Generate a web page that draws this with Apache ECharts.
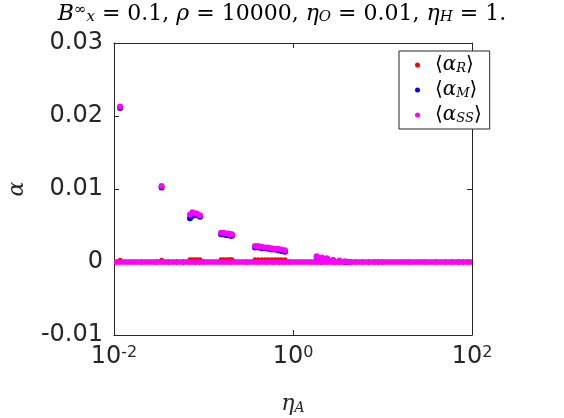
<!DOCTYPE html>
<html>
<head>
<meta charset="utf-8">
<script src="https://cdn.jsdelivr.net/npm/echarts@6/dist/echarts.min.js"></script>
<style>
  html, body { margin: 0; padding: 0; background: #fff; }
  #chart { width: 564px; height: 418px; }
</style>
</head>
<body>
<div id="chart"></div>
<script>
// eta_A values of the points
const etaA = [0.0117, 0.034, 0.0706, 0.075, 0.08, 0.085, 0.0914,
  0.157, 0.167, 0.178, 0.19, 0.2, 0.208,
  0.376, 0.41, 0.45, 0.49, 0.53, 0.58, 0.63, 0.68, 0.74, 0.815,
  1.84, 2.1, 2.4, 2.8, 3.3, 3.8, 4.3]
const alphaR = [0.00025, 0.00025, 0.0003, 0.0003, 0.0003, 0.0003, 0.0003,
  0.0003, 0.0003, 0.0003, 0.0003, 0.0003, 0.0003,
  0.0003, 0.0003, 0.0003, 0.0003, 0.0003, 0.0003, 0.0003, 0.0003, 0.0003, 0.0003,
  0, 0, 0, 0, 0, 0, 0]
const alphaM = [0.0211, 0.0102, 0.0060, 0.0063, 0.0065, 0.0064, 0.0062,
  0.0038, 0.0038, 0.0037, 0.0037, 0.0036, 0.0036,
  0.0020, 0.0020, 0.0019, 0.0019, 0.0018, 0.0017, 0.0017, 0.0016, 0.0015, 0.0014,
  0.0007, 0.0005, 0.0004, 0.0002, 0.0001, 0, 0]
const alphaSS = [0.0213, 0.0104, 0.0065, 0.0068, 0.0067, 0.0066, 0.0064,
  0.0040, 0.0040, 0.0039, 0.0039, 0.0038, 0.0038,
  0.0022, 0.0022, 0.0021, 0.0020, 0.0020, 0.0019, 0.0018, 0.0018, 0.0017, 0.0016,
  0.0008, 0.0006, 0.0005, 0.0003, 0.0002, 0.0001, 0]
// the dense run of points sitting on alpha = 0 over the whole range
const zeroEta = [0.01, 100]
const zeroAlpha = [0, 0]

const xTickLabels = [0.01, 1, 100]
const yTicks = [-0.01, 0, 0.01, 0.02, 0.03]

var minorTicks = []
for (var k = -2; k < 2; k++) {
  for (var m = 2; m <= 9; m++) minorTicks.push(m * Math.pow(10, k))
  if (k === -1 || k === 1) minorTicks.push(Math.pow(10, k))
}

const axisColor = '#262626'
const serif = 'DejaVu Serif'
const sans = 'DejaVu Sans'

function pairs(xs, ys) {
  return xs.map((x, i) => [x, ys[i]])
}

const seriesNames = { aR: 'R', aM: 'M', aSS: 'SS' }

const chart = echarts.init(document.getElementById('chart'), null, { renderer: 'canvas' })

const baseX = {
  type: 'log',
  logBase: 10,
  min: 0.01,
  max: 100,
  gridIndex: 0,
  splitLine: { show: false },
  axisLine: { show: true, onZero: false, lineStyle: { color: axisColor, width: 1 } }
}

chart.setOption({
  animation: false,
  backgroundColor: '#fff',
  title: {
    left: 'center',
    top: -2,
    text: '{i|B}{sup|∞}{sub|x}{n| = 0.1, }{i|ρ}{n| = 10000, }{i|η}{sub|O}{n| = 0.01, }{i|η}{sub|H}{n| = 1.}',
    textStyle: {
      fontWeight: 'normal',
      rich: {
        n: { fontFamily: serif, fontWeight: 'normal', fontSize: 22, color: '#000' },
        i: { fontFamily: serif, fontWeight: 'normal', fontStyle: 'italic', fontSize: 22, color: '#000' },
        sup: { fontFamily: serif, fontWeight: 'normal', fontSize: 15, verticalAlign: 'top', color: '#000' },
        sub: { fontFamily: serif, fontWeight: 'normal', fontStyle: 'italic', fontSize: 15, verticalAlign: 'bottom', color: '#000' }
      }
    }
  },
  grid: { left: 114, right: 92, top: 43, bottom: 83, outerBoundsMode: 'none' },
  legend: {
    orient: 'vertical',
    left: 399,
    top: 51,
    padding: [4, 8, 4, 16],
    itemGap: 5,
    itemWidth: 5,
    itemHeight: 5,
    borderColor: axisColor,
    borderWidth: 1,
    backgroundColor: '#fff',
    data: [
      { name: 'aR', icon: 'circle' },
      { name: 'aM', icon: 'circle' },
      { name: 'aSS', icon: 'circle' }
    ],
    formatter: name => '{b|⟨}{i|α}{sub|' + seriesNames[name] + '}{b|⟩}',
    textStyle: {
      padding: [0, 0, 0, 10],
      rich: {
        b: { fontFamily: serif, fontSize: 20, color: '#000', lineHeight: 20 },
        i: { fontFamily: serif, fontStyle: 'italic', fontSize: 20, color: '#000', lineHeight: 20 },
        sub: { fontFamily: serif, fontStyle: 'italic', fontSize: 13, color: '#000', verticalAlign: 'bottom' }
      }
    }
  },
  xAxis: [
    Object.assign({}, baseX, {
      position: 'bottom',
      name: '{i|η}{sub|A}',
      nameLocation: 'middle',
      nameGap: 58,
      nameTextStyle: {
        rich: {
          i: { fontFamily: serif, fontStyle: 'italic', fontSize: 22, color: axisColor },
          sub: { fontFamily: serif, fontStyle: 'italic', fontSize: 14, color: axisColor, verticalAlign: 'bottom' }
        }
      },
      axisTick: { show: true, inside: true, length: 5, customValues: xTickLabels, lineStyle: { color: axisColor } },
      axisLabel: {
        customValues: xTickLabels,
        margin: 10,
        formatter: v => '{b|10}{sup|' + Math.round(Math.log10(v)) + '}',
        rich: {
          b: { fontFamily: sans, fontSize: 24, color: axisColor },
          sup: { fontFamily: sans, fontSize: 16, color: axisColor, verticalAlign: 'top' }
        }
      }
    }),
    Object.assign({}, baseX, {
      position: 'top',
      axisTick: { show: true, inside: true, length: 5, customValues: xTickLabels, lineStyle: { color: axisColor } },
      axisLabel: { show: false }
    }),
    Object.assign({}, baseX, {
      position: 'bottom',
      axisLine: { show: false },
      axisTick: { show: true, inside: true, length: 3, customValues: minorTicks, lineStyle: { color: axisColor } },
      axisLabel: { show: false }
    }),
    Object.assign({}, baseX, {
      position: 'top',
      axisLine: { show: false },
      axisTick: { show: true, inside: true, length: 3, customValues: minorTicks, lineStyle: { color: axisColor } },
      axisLabel: { show: false }
    })
  ],
  yAxis: [
    {
      type: 'value',
      min: -0.01,
      max: 0.03,
      interval: 0.01,
      position: 'left',
      name: 'α',
      nameLocation: 'middle',
      nameRotate: 90,
      nameGap: 86,
      nameTextStyle: { fontFamily: serif, fontStyle: 'italic', fontSize: 22, color: axisColor },
      splitLine: { show: false },
      axisLine: { show: true, lineStyle: { color: axisColor, width: 1 } },
      axisTick: { show: true, inside: true, length: 5, lineStyle: { color: axisColor } },
      axisLabel: {
        margin: 11,
        fontFamily: sans,
        fontSize: 24,
        color: axisColor,
        customValues: yTicks,
        formatter: v => String(Math.round(v * 100) / 100)
      }
    },
    {
      type: 'value',
      min: -0.01,
      max: 0.03,
      interval: 0.01,
      position: 'right',
      splitLine: { show: false },
      axisLine: { show: true, lineStyle: { color: axisColor, width: 1 } },
      axisTick: { show: true, inside: true, length: 5, lineStyle: { color: axisColor } },
      axisLabel: { show: false }
    }
  ],
  series: [
    {
      name: 'aR', type: 'line', data: pairs(zeroEta, zeroAlpha), symbol: 'none',
      lineStyle: { color: '#ff0000', width: 5 }, itemStyle: { color: '#ff0000' }, z: 2
    },
    {
      name: 'aR', type: 'scatter', data: pairs(etaA, alphaR), symbolSize: 5,
      itemStyle: { color: '#ff0000', opacity: 1 }, z: 3
    },
    {
      name: 'aM', type: 'scatter', data: pairs(etaA, alphaM), symbolSize: 6,
      itemStyle: { color: '#0000ff', opacity: 1 }, z: 4
    },
    {
      name: 'aSS', type: 'line', data: pairs(zeroEta, zeroAlpha), symbol: 'none',
      lineStyle: { color: '#ff00ff', width: 5 }, itemStyle: { color: '#ff00ff' }, z: 5
    },
    {
      name: 'aSS', type: 'scatter', data: pairs(etaA, alphaSS), symbolSize: 6,
      itemStyle: { color: '#ff00ff', opacity: 1 }, z: 6
    }
  ]
})
</script>
</body>
</html>
